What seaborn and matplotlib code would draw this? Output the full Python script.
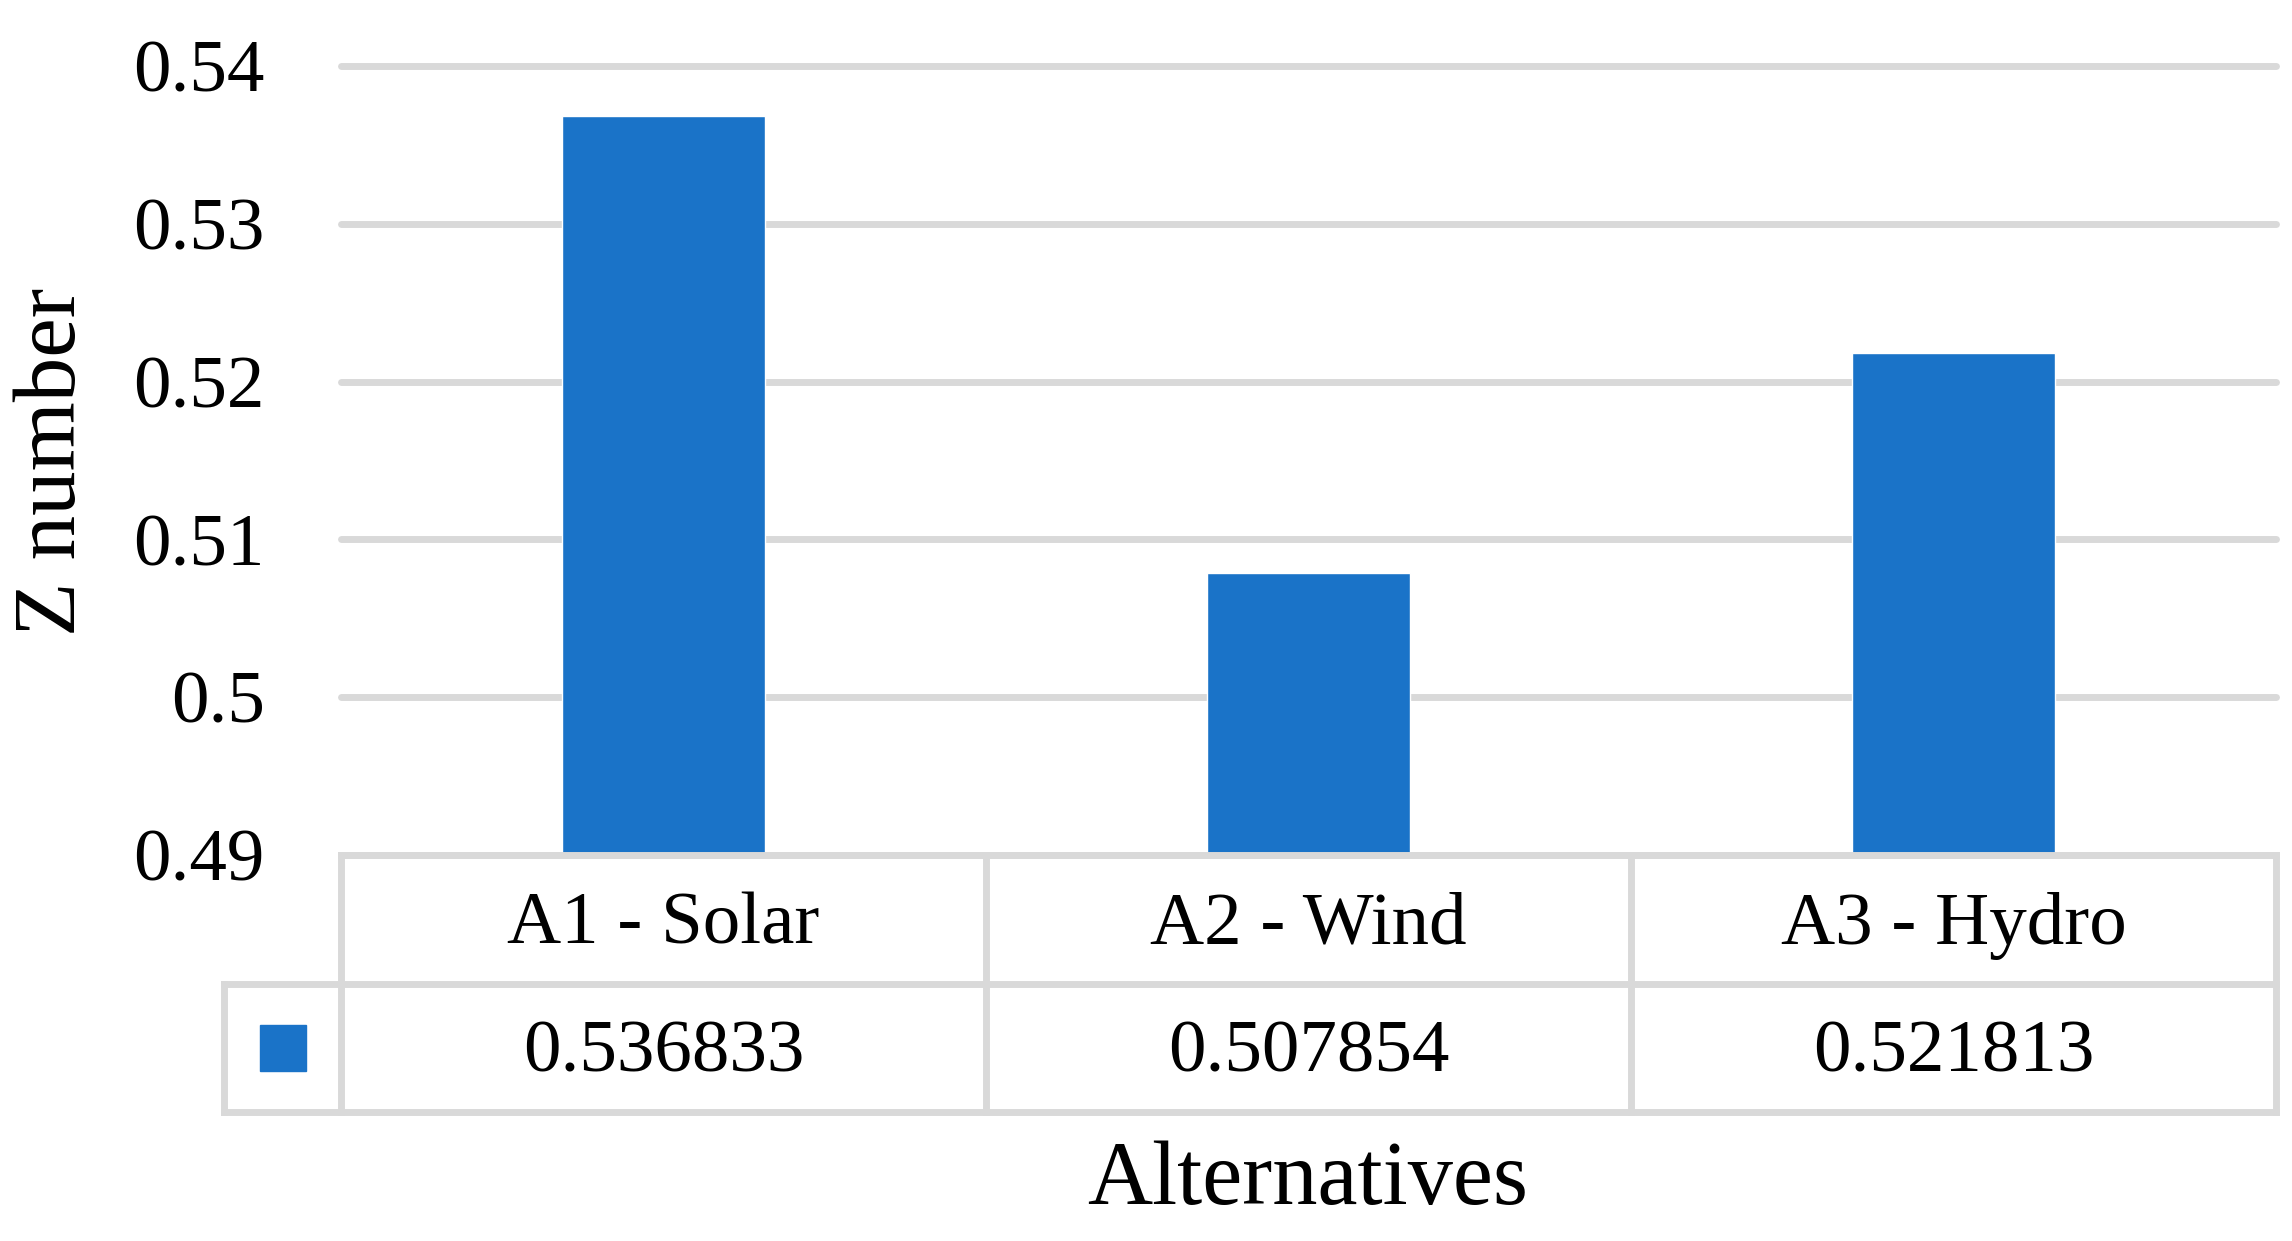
# plot.py
# Bar chart of Z numbers per alternative, with an Excel-style data table under it.
import seaborn as sns
import matplotlib
matplotlib.use("Agg")   # no display
import matplotlib.pyplot as plt

# data
categories = ["A1 - Solar", "A2 - Wind", "A3 - Hydro"]
z_values = [0.536833, 0.507854, 0.521813]
y_ticks = [0.49, 0.50, 0.51, 0.52, 0.53, 0.54]
y_tick_labels = ["0.49", "0.5", "0.51", "0.52", "0.53", "0.54"]

BAR = "#1A73C8"
GRID = "#D9D9D9"
W, H, DPI = 2292, 1241, 100


def fx(px):
    return px / W


def fy(px):
    return 1 - px / H


def main():
    sns.set_theme(style="white")
    plt.rcParams["font.family"] = ["Liberation Serif", "DejaVu Serif"]
    plt.rcParams["text.color"] = "black"
    plt.rcParams["ytick.color"] = "black"

    fig = plt.figure(figsize=(W / DPI, H / DPI), dpi=DPI)

    # plot area in pixels of the reference
    left, right, top, bottom = 341, 2276, 66, 855
    ax = fig.add_axes([fx(left), fy(bottom), fx(right - left), (bottom - top) / H])

    sns.barplot(x=categories, y=z_values, color=BAR, width=0.315,
                saturation=1, ax=ax)
    ax.set_xlim(-0.5, len(categories) - 0.5)
    ax.set_ylim(y_ticks[0], y_ticks[-1])
    ax.set_yticks(y_ticks)
    ax.set_yticklabels(y_tick_labels, fontsize=54, color="black")
    ax.set_xticks([])
    ax.set_xlabel("")
    ax.set_ylabel("")
    ax.tick_params(axis="y", length=0, pad=55)
    ax.yaxis.grid(True, color=GRID, linewidth=5)
    ax.set_axisbelow(True)
    for ln in ax.get_ygridlines():
        ln.set_clip_on(False)
    for sp in ax.spines.values():
        sp.set_visible(False)

    # data table below the bars
    key_w = 117 / 645  # legend key column, in category widths
    t_left, t_bottom = 224, 1112
    tab = fig.add_axes([fx(t_left), fy(t_bottom), fx(right - t_left),
                        (t_bottom - bottom) / H])
    x0 = -0.5 - key_w
    xn = len(categories) - 0.5
    tab.set_xlim(x0, xn)
    tab.set_ylim(0, 2)
    tab.axis("off")

    lk = dict(color=GRID, linewidth=5, solid_capstyle="projecting", clip_on=False)
    tab.plot([-0.5, xn], [2, 2], **lk)
    tab.plot([x0, xn], [1, 1], **lk)
    tab.plot([x0, xn], [0, 0], **lk)
    tab.plot([x0, x0], [0, 1], **lk)
    for i in range(len(categories) + 1):
        tab.plot([i - 0.5, i - 0.5], [0, 2], **lk)

    for i, (cat, val) in enumerate(zip(categories, z_values)):
        tab.text(i, 1.45, cat, ha="center", va="center", fontsize=54,
                 color="black")
        tab.text(i, 0.45, f"{val:.6f}", ha="center", va="center", fontsize=54,
                 color="black")

    # legend key square
    tab.plot([x0 + key_w / 2], [0.5], marker="s", markersize=33, color=BAR,
             linestyle="none", clip_on=False)

    fig.text(fx(1308), fy(1182), "Alternatives", ha="center", va="center",
             fontsize=65, color="black")
    fig.text(fx(54), fy(462), "Z number", ha="center", va="center",
             rotation=90, fontsize=64, color="black")

    fig.savefig("out.png", dpi=DPI)
    plt.close(fig)


if __name__ == "__main__":
    main()
